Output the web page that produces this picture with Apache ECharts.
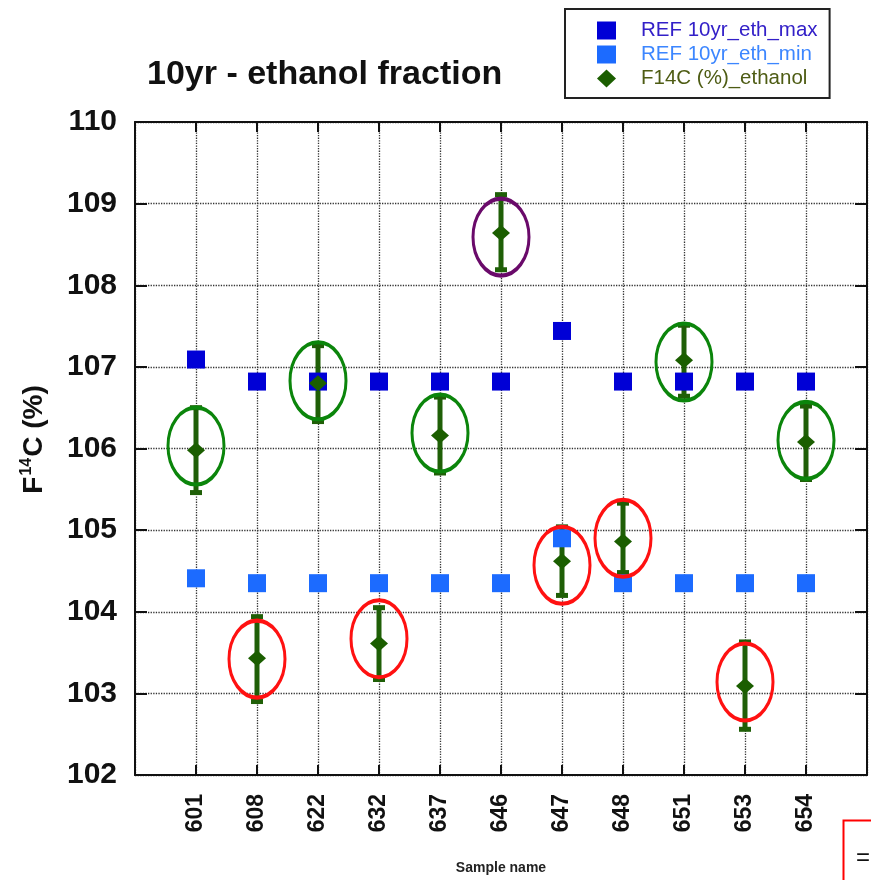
<!DOCTYPE html>
<html>
<head>
<meta charset="utf-8">
<script src="https://cdn.jsdelivr.net/npm/echarts@6/dist/echarts.min.js"></script>
<style>
  html, body { margin: 0; padding: 0; background: #fff; }
  #chart { width: 871px; height: 880px; }
</style>
</head>
<body>
<div id="chart"></div>
<script>
// sample names on the x axis (blank slots keep one empty step at each end)
const samples = ['601', '608', '622', '632', '637', '646', '647', '648', '651', '653', '654'];
const xSlots = [''].concat(samples, ['']);

const refMax = [107.09, 106.82, 106.82, 106.82, 106.82, 106.82, 107.44, 106.82, 106.82, 106.82, 106.82];
const refMin = [104.41, 104.35, 104.35, 104.35, 104.35, 104.35, 104.90, 104.35, 104.35, 104.35, 104.35];
const ethanol = [105.98, 103.43, 106.80, 103.61, 106.16, 108.64, 104.62, 104.86, 107.08, 103.09, 106.08];
const errLow = [105.46, 102.90, 106.33, 103.17, 105.70, 108.19, 104.20, 104.48, 106.64, 102.56, 105.62];
const errHigh = [106.50, 103.94, 107.26, 104.05, 106.63, 109.11, 105.04, 105.33, 107.51, 103.63, 106.52];
// hand-drawn rings round each point: centre and what they flag
const ringY = [106.03, 103.42, 106.83, 103.67, 106.19, 108.59, 104.57, 104.90, 107.06, 103.14, 106.10];
const ringFlag = ['ok', 'low', 'ok', 'low', 'ok', 'high', 'low', 'low', 'ok', 'low', 'ok'];

const ringColor = { ok: '#0b850b', low: '#ff1111', high: '#6a0a6a' };
const FONT = 'Liberation Sans, Arial, Helvetica, sans-serif';

var myChart = echarts.init(document.getElementById('chart'));

var option = {
  backgroundColor: '#fff',
  animation: false,
  title: {
    text: '10yr - ethanol fraction',
    left: 142,
    top: 53,
    textStyle: { fontFamily: FONT, fontSize: 34, fontWeight: 'bold', color: '#111' }
  },
  legend: {
    orient: 'vertical',
    left: 565,
    top: 9,
    padding: [11, 12, 9, 32],
    borderColor: '#222',
    borderWidth: 2,
    itemWidth: 19,
    itemHeight: 18,
    itemGap: 3,
    selectedMode: false,
    textStyle: { fontFamily: FONT, fontSize: 20.5, lineHeight: 21, padding: [0, 0, 0, 20] },
    data: [
      { name: 'REF 10yr_eth_max', icon: 'rect', textStyle: { color: '#3320c8' } },
      { name: 'REF 10yr_eth_min', icon: 'rect', textStyle: { color: '#3c86ff' } },
      { name: 'F14C (%)_ethanol', icon: 'diamond', textStyle: { color: '#4e5c14' } }
    ]
  },
  grid: { left: 135, top: 122, right: 4, bottom: 102 },
  xAxis: [
    {
      type: 'category',
      data: xSlots,
      boundaryGap: false,
      axisLine: { show: true, onZero: false, lineStyle: { color: '#111', width: 2 } },
      axisTick: { show: true, inside: true, length: 10, interval: 0, lineStyle: { color: '#111', width: 2 } },
      axisLabel: {
        interval: 0, rotate: 90, margin: 19,
        fontFamily: FONT, fontSize: 23, fontWeight: 'bold', color: '#111'
      },
      splitLine: { show: true, interval: 0, lineStyle: { color: '#333', type: 'dotted', width: 1.3 } },
      name: 'Sample name',
      nameLocation: 'middle',
      nameGap: 86,
      nameTextStyle: { fontFamily: FONT, fontSize: 14, fontWeight: 'bold', color: '#222' }
    },
    {
      type: 'category',
      data: xSlots,
      position: 'top',
      boundaryGap: false,
      axisLine: { show: true, onZero: false, lineStyle: { color: '#111', width: 2 } },
      axisTick: { show: true, inside: true, length: 10, interval: 0, lineStyle: { color: '#111', width: 2 } },
      axisLabel: { show: false },
      splitLine: { show: false }
    }
  ],
  yAxis: [
    {
      type: 'value',
      min: 102,
      max: 110,
      interval: 1,
      axisLine: { show: true, lineStyle: { color: '#111', width: 2 } },
      axisTick: { show: true, inside: true, length: 12, lineStyle: { color: '#111', width: 2 } },
      axisLabel: {
        margin: 18, padding: [0, 0, 8, 0],
        fontFamily: FONT, fontSize: 30, fontWeight: 'bold', color: '#111'
      },
      splitLine: { show: true, lineStyle: { color: '#333', type: 'dotted', width: 1.3 } },
      name: '{a|F}{s|14}{a|C (%)}',
      nameLocation: 'middle',
      nameRotate: 90,
      nameGap: 86,
      nameTextStyle: {
        padding: [0, 0, 0, 18],
        rich: {
          a: { fontFamily: FONT, fontSize: 28, fontWeight: 'bold', color: '#111', lineHeight: 30 },
          s: { fontFamily: FONT, fontSize: 16, fontWeight: 'bold', color: '#111', verticalAlign: 'top', padding: [0, 1, 12, 1] }
        }
      }
    },
    {
      type: 'value',
      min: 102,
      max: 110,
      interval: 1,
      position: 'right',
      axisLine: { show: true, lineStyle: { color: '#111', width: 2 } },
      axisTick: { show: true, inside: true, length: 12, lineStyle: { color: '#111', width: 2 } },
      axisLabel: { show: false },
      splitLine: { show: false }
    }
  ],
  series: [
    {
      // error bars of the ethanol fraction
      type: 'custom',
      z: 2,
      silent: true,
      data: samples.map((s, i) => [s, errLow[i], errHigh[i]]),
      encode: { x: 0, y: [1, 2] },
      renderItem: function (params, api) {
        var lo = api.coord([api.value(0), api.value(1)]);
        var hi = api.coord([api.value(0), api.value(2)]);
        var col = '#1f5f07';
        var capW = 12, capH = 5;
        return {
          type: 'group',
          children: [
            { type: 'line', shape: { x1: lo[0], y1: lo[1], x2: hi[0], y2: hi[1] }, style: { stroke: col, lineWidth: 5 } },
            { type: 'rect', shape: { x: hi[0] - capW / 2, y: hi[1] - capH / 2, width: capW, height: capH }, style: { fill: col } },
            { type: 'rect', shape: { x: lo[0] - capW / 2, y: lo[1] - capH / 2, width: capW, height: capH }, style: { fill: col } }
          ]
        };
      }
    },
    {
      name: 'REF 10yr_eth_max',
      type: 'scatter',
      z: 3,
      symbol: 'rect',
      symbolSize: 18,
      itemStyle: { color: '#0000d6', opacity: 1 },
      data: samples.map((s, i) => [s, refMax[i]])
    },
    {
      name: 'REF 10yr_eth_min',
      type: 'scatter',
      z: 3,
      symbol: 'rect',
      symbolSize: 18,
      itemStyle: { color: '#1c6bff', opacity: 1 },
      data: samples.map((s, i) => [s, refMin[i]])
    },
    {
      name: 'F14C (%)_ethanol',
      type: 'scatter',
      z: 4,
      symbol: 'diamond',
      symbolSize: [18, 16],
      itemStyle: { color: '#1b5e00', opacity: 1 },
      data: samples.map((s, i) => [s, ethanol[i]])
    },
    {
      // rings drawn round the points
      type: 'scatter',
      z: 5,
      silent: true,
      symbol: 'circle',
      symbolSize: [56, 77],
      data: samples.map((s, i) => ({
        value: [s, ringY[i]],
        itemStyle: { color: 'rgba(0,0,0,0)', borderColor: ringColor[ringFlag[i]], borderWidth: 3.5, opacity: 1 }
      }))
    }
  ],
  graphic: [
    {
      type: 'rect',
      left: 841,
      top: 818,
      shape: { width: 60, height: 80 },
      style: { fill: 'none', stroke: '#ff0000', lineWidth: 2 }
    },
    {
      type: 'text',
      left: 856,
      top: 846,
      style: { text: '=', fontFamily: FONT, fontSize: 24, fill: '#111' }
    }
  ]
};

myChart.setOption(option);
</script>
</body>
</html>
